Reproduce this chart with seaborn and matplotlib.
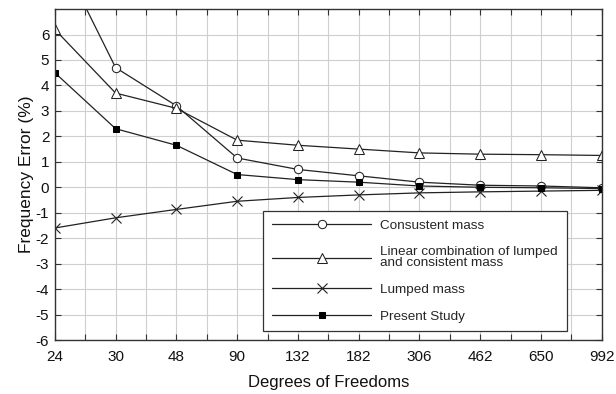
import numpy as np
import pandas as pd
import matplotlib
matplotlib.use("Agg")
import matplotlib.pyplot as plt
import seaborn as sns
from matplotlib.ticker import FixedLocator

sns.set_theme(style="white")
plt.rcParams["font.family"] = ["Liberation Sans", "DejaVu Sans"]
plt.rcParams["axes.unicode_minus"] = False

# Degrees of freedom (categorical, evenly spaced)
dofs = ["24", "30", "48", "90", "132", "182", "306", "462", "650", "992"]

# Frequency error (%) for each mass formulation
consistent = [9.5, 4.7, 3.2, 1.15, 0.7, 0.45, 0.2, 0.08, 0.05, -0.02]
linear_comb = [6.2, 3.7, 3.1, 1.85, 1.65, 1.5, 1.35, 1.3, 1.28, 1.25]
lumped = [-1.6, -1.2, -0.87, -0.55, -0.4, -0.3, -0.22, -0.18, -0.15, -0.12]
present = [4.5, 2.3, 1.65, 0.5, 0.3, 0.2, 0.05, 0.0, -0.02, -0.05]

labels = ["Consustent mass",
          "Linear combination of lumped\nand consistent mass",
          "Lumped mass",
          "Present Study"]

pos = np.arange(len(dofs))
line_color = "#222222"

fig = plt.figure(figsize=(6.16, 3.94), dpi=100)
ax = fig.add_axes([0.089, 0.137, 0.888, 0.840])

styles = [
    dict(marker="o", markerfacecolor="white", markeredgecolor=line_color, markersize=6),
    dict(marker="^", markerfacecolor="white", markeredgecolor=line_color, markersize=6.5),
    dict(marker="x", markeredgecolor=line_color, markersize=7, markeredgewidth=0.8),
    dict(marker="s", markerfacecolor="black", markeredgecolor="black", markersize=5),
]

for vals, lab, st in zip([consistent, linear_comb, lumped, present], labels, styles):
    df = pd.DataFrame({"pos": pos, "err": vals})
    sns.lineplot(data=df, x="pos", y="err", ax=ax, color=line_color,
                 linewidth=0.9, label=lab, **st)

ax.set_xlim(0, len(dofs) - 1)
ax.set_ylim(-6, 7)
ax.xaxis.set_major_locator(FixedLocator(pos))
ax.xaxis.set_minor_locator(FixedLocator(pos[:-1] + 0.5))
ax.set_xticklabels(dofs)
ax.set_yticks(np.arange(-6, 7, 1))

ax.grid(True, which="both", axis="x", color="#cfcfcf", linewidth=0.8)
ax.grid(True, which="major", axis="y", color="#cfcfcf", linewidth=0.8)
ax.set_axisbelow(True)

ax.tick_params(axis="both", which="both", direction="in", top=True, right=True,
               bottom=True, left=True, length=4, width=0.8, color="#333333",
               labelsize=11, labelcolor="#111111", pad=7)
ax.tick_params(axis="y", pad=4)

for sp in ax.spines.values():
    sp.set_color("#333333")
    sp.set_linewidth(1.0)

ax.set_xlabel("Degrees of Freedoms", fontsize=12, color="#111111", labelpad=8)
ax.set_ylabel("Frequency Error (%)", fontsize=12.5, color="#111111", labelpad=1)

leg = ax.legend(loc="upper left", bbox_to_anchor=(263 / 616, 1 - 211 / 394),
                bbox_transform=fig.transFigure, borderaxespad=0, frameon=True,
                fancybox=False, handlelength=7.4, handletextpad=0.65,
                borderpad=0.65, labelspacing=1.05, fontsize=9.7, framealpha=1)
for t in leg.get_texts():
    t.set_linespacing(0.9)
leg.get_frame().set_edgecolor("#333333")
leg.get_frame().set_linewidth(0.9)

fig.savefig("out.png", dpi=100)
